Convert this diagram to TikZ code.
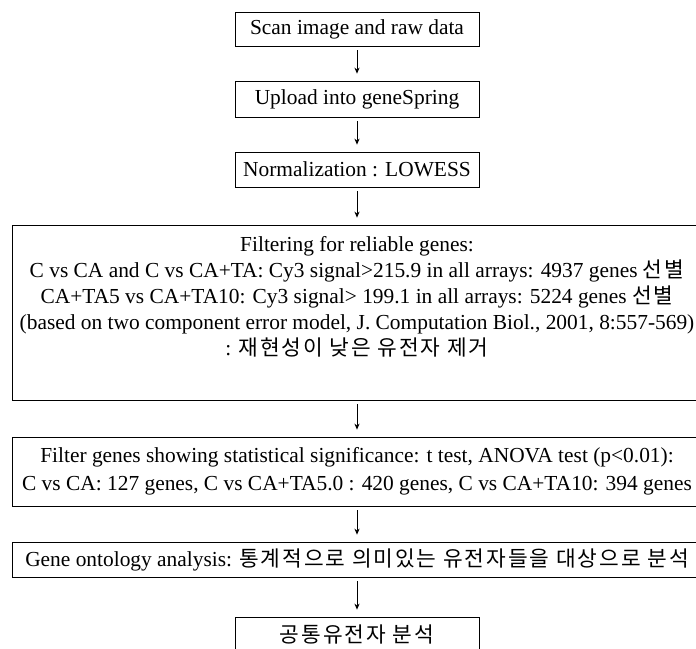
\documentclass[tikz,border=0pt]{standalone}
\usepackage{fontspec}
\setmainfont{Liberation Serif}
\newfontfamily\hangul[LetterSpace=9]{Noto Sans CJK KR}
\usetikzlibrary{arrows.meta}
\tikzset{
  stepbox/.style={draw=black,thin,inner sep=0pt,align=center,
    font=\fontsize{10.7pt}{13pt}\selectfont},
  narrowbox/.style={stepbox,minimum width=122pt},
  widebox/.style={stepbox,minimum width=345pt},
  flowarrow/.style={-{Stealth[length=3pt,width=2.6pt]},thin,
    shorten <=2pt,shorten >=3.5pt}
}

\begin{document}
\begin{tikzpicture}[x=0.5pt,y=-0.5pt]
  \useasboundingbox (0,0) rectangle (696,648);

  \node[narrowbox,minimum height=17pt] (scan) at (357,29) {Scan image and raw data};
  \node[narrowbox,minimum height=18pt] (upload) at (357,99) {Upload into geneSpring};
  \node[narrowbox,minimum height=17.5pt] (norm) at (357,169.5) {Normalization : LOWESS};
  % last empty line keeps the blank strip under the text
  \node[widebox,minimum height=87.5pt] (filter) at (357,312.5) {Filtering for reliable genes:\\
    C vs CA and C vs CA+TA: Cy3 signal>215.9 in all arrays: 4937 genes {\hangul 선별}\\
    CA+TA5 vs CA+TA10: Cy3 signal> 199.1 in all arrays: 5224 genes {\hangul 선별}\\
    (based on two component error model, J. Computation Biol., 2001, 8:557-569)\\
    : {\hangul 재현성이 낮은 유전자 제거}\\[4pt] \mbox{}};
  \node[widebox,minimum height=34.5pt] (signif) at (357,471.5) {Filter genes showing statistical significance: t test, ANOVA test (p<0.01):\\[1pt]
    C vs CA: 127 genes, C vs CA+TA5.0 : 420 genes, C vs CA+TA10: 394 genes};
  \node[widebox,minimum height=17.5pt] (onto) at (357,559.5) {Gene ontology analysis: {\hangul 통계적으로 의미있는 유전자들을 대상으로 분석}};
  \node[narrowbox,minimum height=17.5pt] (common) at (357,634.5) {\hangul 공통유전자 분석};

  \draw[flowarrow] (scan) -- (upload);
  \draw[flowarrow] (upload) -- (norm);
  \draw[flowarrow] (norm) -- (filter);
  \draw[flowarrow] (filter) -- (signif);
  \draw[flowarrow] (signif) -- (onto);
  \draw[flowarrow] (onto) -- (common);
\end{tikzpicture}
\end{document}
